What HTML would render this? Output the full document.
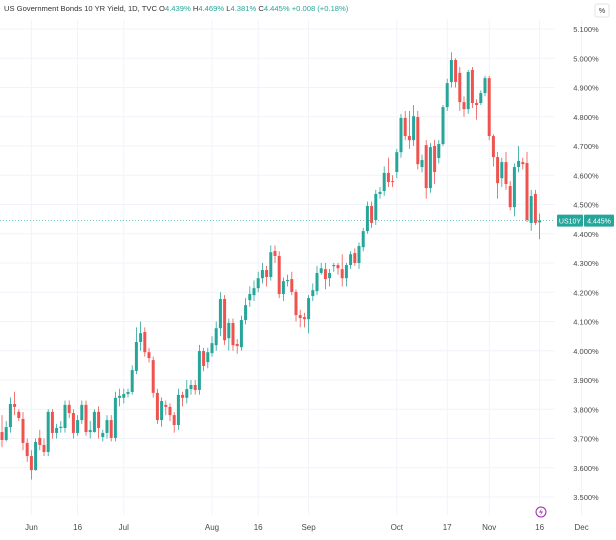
<!DOCTYPE html>
<html><head><meta charset="utf-8"><style>
html,body{margin:0;padding:0;background:#fff;width:616px;height:540px;overflow:hidden;font-family:"Liberation Sans",sans-serif}
</style></head><body>
<svg id="c" width="616" height="540" xmlns="http://www.w3.org/2000/svg"></svg>
<script>
const opens=[3.722,3.695,3.739,3.818,3.791,3.767,3.685,3.640,3.592,3.702,3.678,3.654,3.791,3.719,3.736,3.736,3.815,3.787,3.719,3.763,3.815,3.722,3.722,3.791,3.705,3.719,3.763,3.702,3.839,3.839,3.852,3.859,3.931,4.030,4.064,3.995,3.968,3.856,3.763,3.815,3.808,3.780,3.746,3.849,3.839,3.869,3.883,3.866,3.999,3.961,3.992,4.019,4.077,4.177,4.043,4.095,4.023,4.012,4.105,4.173,4.190,4.214,4.248,4.276,4.252,4.341,4.324,4.194,4.238,4.245,4.201,4.122,4.115,4.108,4.187,4.204,4.266,4.279,4.248,4.289,4.293,4.279,4.248,4.293,4.334,4.300,4.354,4.409,4.495,4.447,4.536,4.546,4.608,4.580,4.611,4.679,4.796,4.734,4.720,4.799,4.628,4.703,4.556,4.700,4.659,4.707,4.833,4.919,4.994,4.950,4.850,4.826,4.960,4.847,4.847,4.881,4.932,4.734,4.662,4.590,4.645,4.563,4.491,4.628,4.645,4.642,4.437,4.536,4.439];
const closes=[3.695,3.739,3.818,3.808,3.770,3.685,3.640,3.592,3.688,3.678,3.654,3.791,3.719,3.736,3.740,3.815,3.787,3.719,3.763,3.815,3.722,3.729,3.791,3.736,3.719,3.763,3.702,3.839,3.846,3.852,3.859,3.934,4.030,4.060,3.995,3.975,3.856,3.763,3.828,3.808,3.780,3.746,3.849,3.839,3.869,3.883,3.866,3.999,3.948,3.995,4.026,4.077,4.177,4.036,4.095,4.019,4.016,4.105,4.156,4.194,4.214,4.248,4.276,4.252,4.337,4.324,4.194,4.238,4.242,4.201,4.122,4.112,4.108,4.180,4.207,4.266,4.282,4.245,4.266,4.293,4.282,4.248,4.293,4.330,4.300,4.358,4.409,4.495,4.437,4.536,4.543,4.608,4.577,4.577,4.679,4.796,4.734,4.720,4.802,4.638,4.652,4.556,4.696,4.611,4.707,4.833,4.915,4.994,4.919,4.850,4.826,4.953,4.847,4.840,4.881,4.932,4.734,4.662,4.573,4.645,4.570,4.491,4.628,4.649,4.638,4.447,4.529,4.437,4.445];
const highs=[3.78,3.76,3.84,3.86,3.80,3.79,3.70,3.66,3.70,3.73,3.70,3.80,3.80,3.75,3.76,3.83,3.83,3.80,3.78,3.83,3.83,3.76,3.80,3.81,3.73,3.78,3.78,3.86,3.87,3.87,3.87,3.95,4.08,4.10,4.08,4.01,3.98,3.87,3.84,3.83,3.82,3.79,3.87,3.86,3.90,3.90,3.90,4.02,4.01,4.01,4.05,4.10,4.20,4.19,4.11,4.11,4.04,4.12,4.18,4.22,4.24,4.27,4.30,4.29,4.36,4.36,4.34,4.25,4.26,4.27,4.21,4.14,4.13,4.19,4.23,4.29,4.30,4.30,4.28,4.30,4.30,4.33,4.30,4.34,4.35,4.37,4.42,4.51,4.51,4.55,4.56,4.63,4.66,4.60,4.69,4.81,4.82,4.82,4.84,4.82,4.67,4.72,4.71,4.72,4.72,4.84,4.93,5.02,5.00,4.97,4.87,4.96,4.97,4.86,4.89,4.94,4.94,4.74,4.68,4.66,4.68,4.58,4.64,4.70,4.66,4.68,4.55,4.55,4.469];
const lows=[3.67,3.69,3.72,3.78,3.76,3.66,3.62,3.56,3.59,3.66,3.64,3.64,3.70,3.70,3.72,3.72,3.77,3.70,3.71,3.75,3.71,3.70,3.72,3.70,3.69,3.70,3.69,3.69,3.81,3.82,3.84,3.85,3.92,4.00,3.98,3.96,3.84,3.75,3.74,3.78,3.76,3.72,3.73,3.81,3.82,3.85,3.85,3.85,3.93,3.94,3.98,4.00,4.05,4.02,4.00,4.00,3.99,4.00,4.09,4.15,4.17,4.20,4.23,4.22,4.24,4.30,4.18,4.17,4.22,4.19,4.10,4.08,4.08,4.06,4.17,4.19,4.26,4.21,4.22,4.27,4.26,4.22,4.22,4.28,4.29,4.28,4.34,4.40,4.42,4.43,4.52,4.53,4.56,4.56,4.59,4.66,4.72,4.69,4.70,4.62,4.61,4.52,4.54,4.57,4.64,4.70,4.82,4.90,4.90,4.82,4.80,4.81,4.83,4.79,4.84,4.87,4.72,4.63,4.52,4.56,4.55,4.48,4.46,4.61,4.62,4.44,4.41,4.43,4.381];
const yTicks=[3.5,3.6,3.7,3.8,3.9,4.0,4.1,4.2,4.3,4.4,4.5,4.6,4.7,4.8,4.9,5.0,5.1];
const xLabels=["Jun","16","Jul","Aug","16","Sep","Oct","17","Nov","16","Dec"];
const xLabelBars=[7,18,29,50,61,73,94,106,116,128,138];

const svg=document.getElementById('c');
const NS='http://www.w3.org/2000/svg';
function yS(v){return 29+(5.1-v)*292.5;}
function xS(i){return 2+i*4.2;}
function mk(t,a,p){const e=document.createElementNS(NS,t);for(const k in a)e.setAttribute(k,a[k]);(p||svg).appendChild(e);return e;}

const grid=mk('g',{});


yTicks.forEach(v=>{mk('line',{x1:0,x2:555,y1:yS(v),y2:yS(v),stroke:'#f0f3fa','stroke-width':1},grid);});
xLabelBars.forEach(b=>{mk('line',{x1:xS(b),x2:xS(b),y1:20,y2:515,stroke:'#f0f3fa','stroke-width':1},grid);});

const yAx=mk('g',{});


yTicks.forEach(v=>{
  const t=mk('text',{x:586,y:yS(v)+3,'font-size':'7.5','fill':'#4a4a4a','text-anchor':'middle'},yAx);
  t.textContent=v.toFixed(3)+'%';
  
  
});
const xAx=mk('g',{});


xLabels.forEach((l,k)=>{
  const t=mk('text',{x:xS(xLabelBars[k]),y:530,'font-size':'8','fill':'#4a4a4a','text-anchor':'middle'},xAx);
  t.textContent=l;
  
  
});

const cg=mk('g',{});


closes.forEach((c,i)=>{
  const o=opens[i],col=c>=o?'#26a69a':'#ef5350',x=xS(i);
  const g=mk('g',{},cg);
  
  
  mk('line',{x1:x,x2:x,y1:yS(highs[i]),y2:yS(lows[i]),stroke:col,'stroke-width':0.8},g);
  const top=yS(Math.max(o,c)),h=Math.max(1,Math.abs(yS(o)-yS(c)));
  mk('rect',{x:x-1.5,y:top,width:3,height:h,fill:col},g);
});

const last=closes[closes.length-1];
const pl=mk('line',{x1:0,x2:555,y1:yS(last),y2:yS(last),stroke:'#26a69a','stroke-width':0.6,'stroke-dasharray':'1 2'});


const tag=mk('g',{});


mk('rect',{x:557,y:yS(last)-6,width:26,height:12,fill:'#26a69a',rx:1},tag);
mk('rect',{x:584,y:yS(last)-6,width:30,height:12,fill:'#26a69a',rx:1},tag);
let t=mk('text',{x:570,y:yS(last)+3,'font-size':'7','fill':'#fff','text-anchor':'middle'},tag);t.textContent='US10Y';
t=mk('text',{x:599,y:yS(last)+3,'font-size':'7','fill':'#fff','text-anchor':'middle'},tag);t.textContent=last.toFixed(3)+'%';

const hd=mk('text',{x:4,y:11,'font-size':'7.6','fill':'#333'});


hd.innerHTML='US Government Bonds 10 YR Yield, 1D, TVC <tspan fill="#333">O</tspan><tspan fill="#26a69a">4.439%</tspan> <tspan fill="#333">H</tspan><tspan fill="#26a69a">4.469%</tspan> <tspan fill="#333">L</tspan><tspan fill="#26a69a">4.381%</tspan> <tspan fill="#333">C</tspan><tspan fill="#26a69a">4.445%</tspan> <tspan fill="#26a69a">+0.008 (+0.18%)</tspan>';

const pb=mk('g',{});


mk('rect',{x:595,y:4,width:14,height:13,fill:'#fff',stroke:'#e0e3eb',rx:2},pb);
t=mk('text',{x:602,y:13,'font-size':'7','fill':'#333','text-anchor':'middle'},pb);t.textContent='%';

const ic=mk('g',{});


mk('circle',{cx:541,cy:512,r:5,fill:'#fff',stroke:'#9c27b0','stroke-width':1},ic);
mk('path',{d:'M542 508 L539 512.5 L541.5 512.5 L540 516 L543 511.5 L540.5 511.5 Z',fill:'#9c27b0'},ic);
</script>
</body></html>
